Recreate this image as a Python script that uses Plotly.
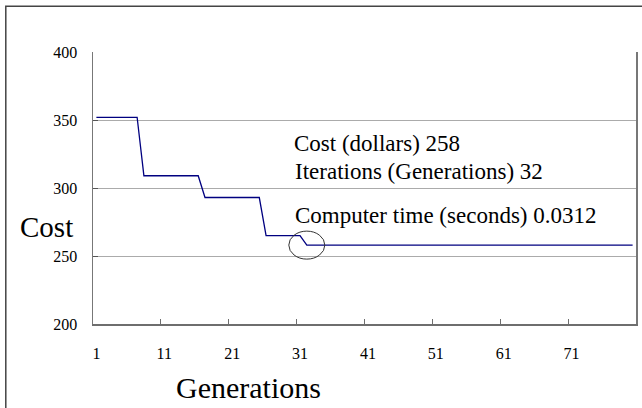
import plotly.graph_objects as go

# ---- data ----
generations = list(range(1, 81))
cost = [352] * 7 + [309] * 9 + [293] * 9 + [265] * 6 + [258] * 49
x_tick_values = [1, 11, 21, 31, 41, 51, 61, 71]
x_tick_labels = ["1", "11", "21", "31", "41", "51", "61", "71"]
y_tick_values = [200, 250, 300, 350, 400]
best_generation = 32
best_cost = 258
info_lines = [
    "Cost (dollars) 258",
    "Iterations (Generations) 32",
    "Computer time (seconds) 0.0312",
]

SERIF = "Liberation Serif"

fig = go.Figure()
fig.add_trace(go.Scatter(
    x=generations, y=cost, mode="lines",
    line=dict(color="#000080", width=1.3),
    hoverinfo="skip", showlegend=False,
))
# invisible trace so the boundary-tick axis is drawn
fig.add_trace(go.Scatter(
    x=[generations[0]], y=[cost[0]], xaxis="x2", mode="markers",
    marker=dict(opacity=0), hoverinfo="skip", showlegend=False,
))

xr = [generations[0] - 0.5, generations[-1] + 0.5]
boundaries = [v - 0.5 for v in x_tick_values[1:]]

fig.update_layout(
    width=642, height=408,
    margin=dict(l=93, r=4, t=52, b=84),
    paper_bgcolor="white", plot_bgcolor="white",
    font=dict(family=SERIF, color="black"),
    xaxis=dict(
        range=xr, tickvals=x_tick_values, ticktext=x_tick_labels,
        ticks="", showgrid=False, zeroline=False,
        showline=True, linecolor="#6e6e6e", linewidth=1.5,
        tickfont=dict(size=16, family=SERIF), ticklabelstandoff=14,
    ),
    xaxis2=dict(
        range=xr, overlaying="x", side="bottom", tickvals=boundaries,
        ticks="inside", ticklen=5, tickcolor="#6e6e6e", tickwidth=1,
        showticklabels=False, showgrid=False, zeroline=False, showline=False,
    ),
    yaxis=dict(
        range=[200, 400], tickvals=y_tick_values,
        ticks="inside", ticklen=5, tickcolor="#555555",
        showgrid=True, gridcolor="#ababab", gridwidth=1,
        zeroline=False, showline=True, linecolor="#777777", linewidth=1.5,
        mirror=True,
        tickfont=dict(size=16, family=SERIF), ticklabelstandoff=11,
    ),
)

# axis titles (horizontal, as in the original)
fig.add_annotation(text="Cost", xref="paper", yref="paper", x=-0.086, y=0.357,
                   xanchor="center", yanchor="middle", showarrow=False,
                   font=dict(size=29, family=SERIF))
fig.add_annotation(text="Generations", xref="paper", yref="paper", x=0.286, y=-0.232,
                   xanchor="center", yanchor="middle", showarrow=False,
                   font=dict(size=30, family=SERIF))

# info text block
for txt, xp, yp in zip(info_lines, [0.367, 0.369, 0.369], [0.665, 0.559, 0.3985]):
    fig.add_annotation(text=txt, xref="paper", yref="paper", x=xp, y=yp,
                       xanchor="left", yanchor="middle", showarrow=False,
                       font=dict(size=23, family=SERIF))

# ellipse around the converged point
fig.add_shape(type="circle", xref="x", yref="y",
              xsizemode="pixel", ysizemode="pixel",
              xanchor=best_generation, yanchor=best_cost,
              x0=-18, x1=18, y0=-14, y1=14,
              line=dict(color="#333333", width=1))

# outer chart frame
fig.add_shape(type="rect", xref="paper", yref="paper",
              x0=-0.1606, x1=1.02, y0=-0.4, y1=1.168,
              line=dict(color="#444444", width=1.5), layer="below")

fig.write_html(
    "out.html",
    config={"displayModeBar": False, "staticPlot": True},
    post_script="document.body.style.margin='0';document.body.style.overflow='hidden';",
)
